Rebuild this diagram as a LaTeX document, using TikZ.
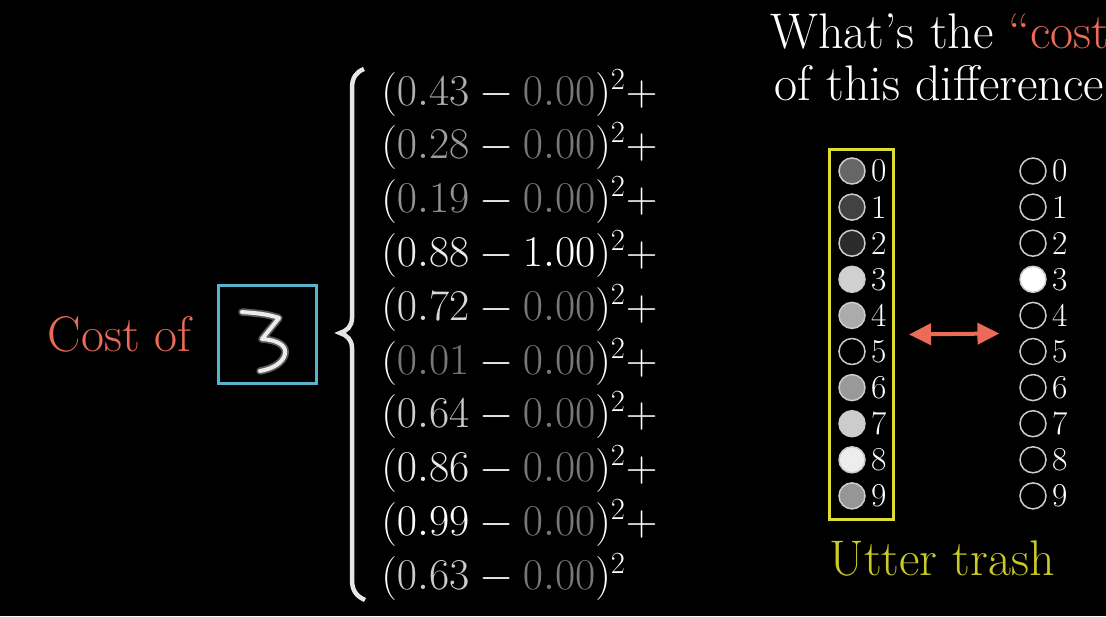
\RequirePackage{fix-cm}
\documentclass[tikz,border=0pt]{standalone}
\usepackage{xcolor}
\usepackage{tikz}
\usetikzlibrary{positioning,fit,arrows.meta}
\definecolor{costred}{RGB}{236,106,88}
\definecolor{boxblue}{RGB}{88,180,205}
\definecolor{trashyellow}{RGB}{222,222,48}
\definecolor{trashtext}{RGB}{202,202,40}
\tikzset{
    imagebox/.style={draw=boxblue, line width=0.06cm, minimum size=1.96cm, inner sep=0},
    bigtext/.style={font=\fontsize{28.5}{34}\selectfont, inner sep=0},
    eqtext/.style={font=\fontsize{25}{30}\selectfont, text=white, inner sep=0, anchor=base west},
    neuron/.style={draw=white!80!black, circle, line width=0.03cm, minimum size=0.52cm, inner sep=0},
    digitlabel/.style={font=\fontsize{19}{22}\selectfont, text=white, inner sep=0},
    trashbox/.style={draw=trashyellow, line width=0.06cm, minimum width=1.28cm, minimum height=7.4cm, inner sep=0},
    costarrow/.style={{Triangle[length=0.44cm,width=0.42cm]}-{Triangle[length=0.44cm,width=0.42cm]}, line width=0.08cm, draw=costred},
    digitglow/.style={draw=white!35!black, line width=0.15cm, line cap=round, line join=round},
    digitstroke/.style={draw=white!92!black, line width=0.08cm, line cap=round, line join=round},
    bracestroke/.style={draw=white!90!black, line width=0.09cm}
}
\begin{document}
\begin{tikzpicture}[x=0.02cm, y=-0.02cm]
    \useasboundingbox (0,0) rectangle (1106,616);
    \fill[black] (0,0) rectangle (1106,616);
    \clip (0,0) rectangle (1106,616);

    % input image
    \node[imagebox] (digit) at (267.5,334.5) {};
    \node[bigtext, text=costred, left=0.5cm of digit] (costof) {Cost of};
    \draw[digitglow] (242,312) .. controls (255,313) and (268,314) .. (279,318) -- (262,339)
        .. controls (278,340) and (287,346) .. (285,354) .. controls (283,363) and (272,369) .. (260,371);
    \draw[digitstroke] (242,312) .. controls (255,313) and (268,314) .. (279,318) -- (262,339)
        .. controls (278,340) and (287,346) .. (285,354) .. controls (283,363) and (272,369) .. (260,371);

    % brace
    \draw[bracestroke] (364,69) .. controls (356,72) and (352,78) .. (352,88) -- (352,318)
        .. controls (352,326) and (347,331) .. (340,333) .. controls (347,335) and (352,340) .. (352,348)
        -- (352,580) .. controls (352,590) and (356,596) .. (365,600);

    % squared differences
    \foreach \outv/\goal/\tail [count=\i from 0] in {0.43/0.00/+, 0.28/0.00/+, 0.19/0.00/+, 0.88/1.00/+, 0.72/0.00/+,
        0.01/0.00/+, 0.64/0.00/+, 0.86/0.00/+, 0.99/0.00/+, 0.63/0.00/{}} {
        \pgfmathtruncatemacro\firstshade{47+53*\outv}
        \pgfmathtruncatemacro\secondshade{47+53*\goal}
        \node[eqtext] (term\i) at (381,{105+53.8*\i})
            {$(\textcolor{white!\firstshade!black}{\outv} - \textcolor{white!\secondshade!black}{\goal})^2\tail$};
    }

    % question
    \node[bigtext, text=white, anchor=base west] (question1) at (770,48) {What’s the \textcolor{costred}{“cost”}};
    \node[bigtext, text=white, anchor=base west] (question2) at (774,100) {of this difference?};

    % network output
    \foreach \outv [count=\i from 0] in {0.43,0.28,0.19,0.88,0.72,0.01,0.64,0.86,0.99,0.63} {
        \pgfmathtruncatemacro\lvl{94*\outv}
        \node[neuron, fill=white!\lvl!black] (out\i) at (852,{171+36.1*\i}) {};
        \node[digitlabel, right=0.1cm of out\i] (outlabel\i) {\i};
    }
    \node[trashbox] (outbox) at (861.5,334.5) {};
    \node[bigtext, text=trashtext, anchor=base west] (trash) at (829,575) {Utter trash};

    % desired output
    \foreach \i in {0,...,9} {
        \pgfmathtruncatemacro\lvl{ifthenelse(\i==3,100,0)}
        \node[neuron, fill=white!\lvl!black] (want\i) at (1033,{171+36.1*\i}) {};
        \node[digitlabel, right=0.1cm of want\i] (wantlabel\i) {\i};
    }
    \node[fit=(want0)(want9), inner sep=0] (wantcol) {};

    \draw[costarrow] ([xshift=0.28cm]outbox.east) -- ([xshift=-0.39cm]wantcol.west);
\end{tikzpicture}
\end{document}
